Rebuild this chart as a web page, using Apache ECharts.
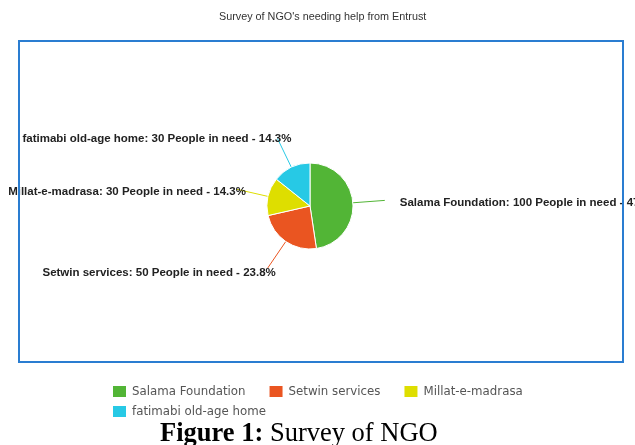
<!DOCTYPE html>
<html>
<head>
<meta charset="utf-8">
<script src="https://cdn.jsdelivr.net/npm/echarts@6/dist/echarts.min.js"></script>
<style>html,body{margin:0;padding:0;background:#fff}#c{width:635px;height:445px}</style>
</head>
<body>
<div id="c"></div>
<script>
const categories = ['Salama Foundation', 'Setwin services', 'Millat-e-madrasa', 'fatimabi old-age home'];
const peopleInNeed = [100, 50, 30, 30];
const colors = ['#52b536', '#ea5521', '#dede00', '#27c9e5'];
const titleText = "Survey of NGO's needing help from Entrust";

const total = peopleInNeed.reduce((a, b) => a + b, 0);

// per-label style tweaks (label placement relative to its leader line)
function labelTweak(i) {
  if (i === 0) return {distanceToLabelLine: 15};
  if (i === 1) return {distanceToLabelLine: -8};
  if (i === 3) return {distanceToLabelLine: -14};
  return {distanceToLabelLine: -9};
}
const labelFont = {fontFamily: 'Liberation Sans', fontSize: 11.5, fontWeight: 'bold', color: '#222'};
const richLabels = {
  t0: Object.assign({padding: [4, 0, 0, 0]}, labelFont),
  t1: Object.assign({padding: [10, 0, 0, 0]}, labelFont),
  t2: Object.assign({padding: [6, 0, 0, 0]}, labelFont),
  t3: Object.assign({}, labelFont)
};

const legendText = {fontFamily: 'DejaVu Sans', fontSize: 11.8, color: '#555'};
const chart = echarts.init(document.getElementById('c'), null, {renderer: 'canvas'});
chart.setOption({
  animation: false,
  color: colors,
  title: {
    text: titleText, left: 219, top: 12, padding: 0,
    textStyle: {fontFamily: 'Liberation Sans', fontSize: 10.8, fontWeight: 'normal', color: '#333'}
  },
  graphic: [
    {type: 'rect', shape: {x: 19, y: 41, width: 604, height: 321}, style: {fill: 'none', stroke: '#2a7dd1', lineWidth: 2}, z: 100},
    {type: 'text', left: 160, top: 421, style: {
      text: '{b|Figure 1:} Survey of NGO',
      rich: {b: {fontWeight: 'bold', fontFamily: 'Liberation Serif', fontSize: 26.5, fill: '#000'}},
      fontFamily: 'Liberation Serif', fontSize: 26.5, fill: '#000'
    }}
  ],
  legend: [
    {
      left: 111, top: 384, padding: 0, itemGap: 22, itemWidth: 15, itemHeight: 13, itemTextGap: 6,
      icon: 'rect', textStyle: legendText, data: categories.slice(0, 3)
    },
    {
      left: 111, top: 404, padding: 0, itemGap: 22, itemWidth: 15, itemHeight: 13, itemTextGap: 6,
      icon: 'rect', textStyle: legendText, data: categories.slice(3)
    }
  ],
  series: [{
    type: 'pie',
    center: [310, 206],
    radius: 43,
    startAngle: 90,
    clockwise: true,
    data: categories.map((n, i) => ({name: n, value: peopleInNeed[i], label: labelTweak(i)})),
    itemStyle: {borderColor: '#fff', borderWidth: 1},
    label: Object.assign({
      show: true,
      overflow: 'none',
      edgeDistance: 0,
      formatter: p => '{t' + p.dataIndex + '|' + p.name + ': ' + p.value + ' People in need - ' + (p.value / total * 100).toFixed(1) + '%}',
      rich: richLabels
    }, labelFont),
    labelLine: {length: 32, length2: 0, lineStyle: {width: 1}},
    emphasis: {disabled: true}
  }]
});
</script>
</body>
</html>
